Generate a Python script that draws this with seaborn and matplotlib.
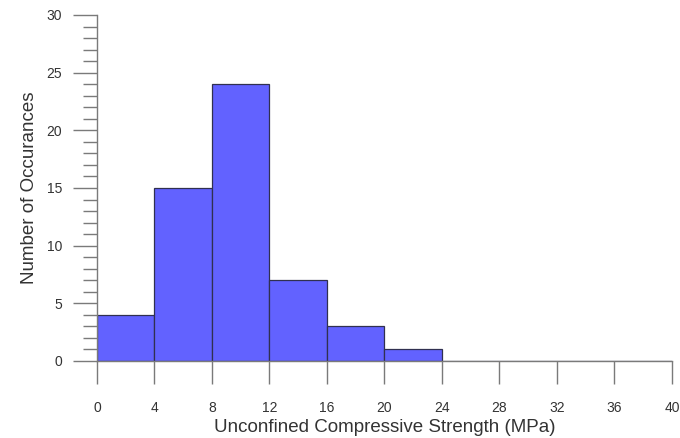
import matplotlib
matplotlib.use("Agg")
import matplotlib.pyplot as plt
from matplotlib.ticker import MultipleLocator
import seaborn as sns
import numpy as np

# Histogram of unconfined compressive strength (MPa), 4 MPa bins
bin_edges = [0, 4, 8, 12, 16, 20, 24, 28, 32, 36, 40]
bin_counts = [4, 15, 24, 7, 3, 1, 0, 0, 0, 0]
x_ticks = [0, 4, 8, 12, 16, 20, 24, 28, 32, 36, 40]
y_ticks = [0, 5, 10, 15, 20, 25, 30]

sns.set_theme(style="white")
plt.rcParams["font.family"] = ["Liberation Sans", "DejaVu Sans"]

fig = plt.figure(figsize=(6.8, 4.38), dpi=100)
ax = fig.add_axes([0.1426, 0.1758, 0.8456, 0.79])

centers = [(a + b) / 2 for a, b in zip(bin_edges[:-1], bin_edges[1:])]
sns.histplot(x=centers, weights=bin_counts, bins=bin_edges, ax=ax,
             color="#6262FF", alpha=1.0, edgecolor="#303050", linewidth=0.9)

ax.set_xlim(0, 40)
ax.set_ylim(0, 30)
ax.set_xticks(x_ticks)
ax.set_yticks(y_ticks)
ax.yaxis.set_minor_locator(MultipleLocator(1))

for side in ("top", "right"):
    ax.spines[side].set_visible(False)
for side in ("left", "bottom"):
    ax.spines[side].set_color("#7a7a7a")
    ax.spines[side].set_linewidth(1.0)

ax.tick_params(axis="x", which="major", direction="out", length=16.5, width=1.0,
               color="#7a7a7a", pad=12, labelsize=10, labelcolor="#333333", bottom=True)
ax.tick_params(axis="y", which="major", direction="out", length=17, width=1.0,
               color="#7a7a7a", pad=8, labelsize=10, labelcolor="#333333", left=True)
ax.tick_params(axis="y", which="minor", direction="out", length=10, width=1.0,
               color="#7a7a7a", left=True)

ax.set_xlabel("Unconfined Compressive Strength (MPa)", fontsize=13.5,
              color="#333333", labelpad=3)
ax.set_ylabel("Number of Occurances", fontsize=13.5, color="#333333", labelpad=6)

fig.savefig("out.png", dpi=100)
